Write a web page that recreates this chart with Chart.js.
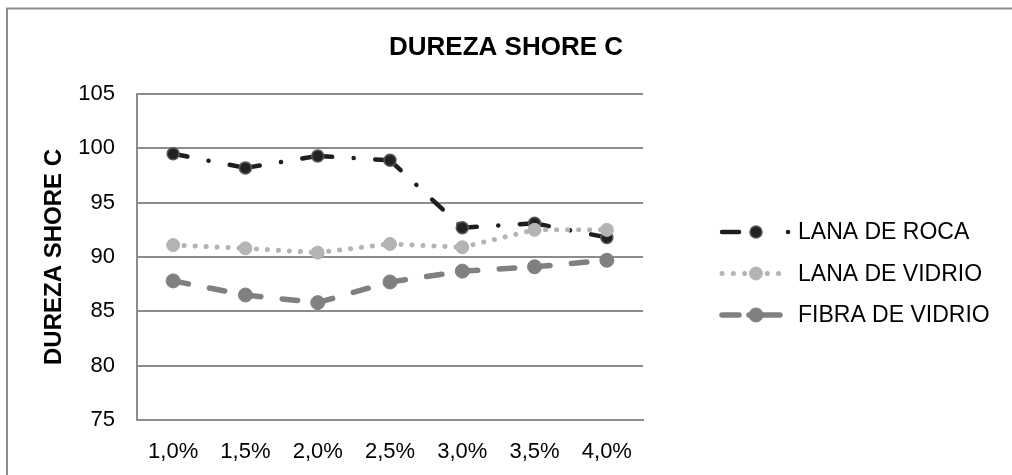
<!DOCTYPE html>
<html>
<head>
<meta charset="utf-8">
<script src="https://cdn.jsdelivr.net/npm/chart.js@4/dist/chart.umd.min.js"></script>
<style>
  html, body { margin: 0; padding: 0; background: #fff; }
  #wrap { position: relative; width: 1012px; height: 475px; }
</style>
</head>
<body>
<div id="wrap"><canvas id="chart" width="1012" height="475"></canvas></div>
<script>
// categorías (% de fibra) y valores de dureza
const categorias = ["1,0%", "1,5%", "2,0%", "2,5%", "3,0%", "3,5%", "4,0%"];
const lanaRoca = [99.5, 98.2, 99.3, 98.9, 92.7, 93.1, 91.8];
const lanaVidrio = [91.1, 90.8, 90.4, 91.2, 90.9, 92.5, 92.5];
const fibraVidrio = [87.8, 86.5, 85.8, 87.7, 88.7, 89.1, 89.7];
const nombres = ["LANA DE ROCA", "LANA DE VIDRIO", "FIBRA DE VIDRIO"];
const titulo = "DUREZA SHORE C";
const yMin = 75, yMax = 105, yPaso = 5;

const FUENTE = "'Liberation Sans', Arial, sans-serif";
const GRIS = "#8c8c8c";

// Excel reinicia el patrón de guiones en cada tramo: un offset distinto
// (múltiplo del periodo) obliga a Chart.js a trazar cada tramo por separado
function reinicio(periodo) {
    return { borderDashOffset: c => c.p0DataIndex * periodo };
}

// marco exterior y título centrado en todo el gráfico
const marco = {
    id: "marco",
    beforeDraw(chart) {
        const ctx = chart.ctx;
        ctx.save();
        ctx.strokeStyle = GRIS;
        ctx.lineWidth = 2;
        ctx.beginPath();
        ctx.moveTo(7, 480);
        ctx.lineTo(7, 8.5);
        ctx.lineTo(1020, 8.5);
        ctx.stroke();
        ctx.fillStyle = "#000";
        ctx.font = "bold 26px " + FUENTE;
        ctx.textAlign = "center";
        ctx.textBaseline = "middle";
        ctx.fillText(titulo, 506, 48);
        ctx.restore();
    }
};

// leyenda a la derecha, estilo Excel: línea con marcador en el centro
const leyenda = {
    id: "leyenda",
    afterDraw(chart) {
        const ctx = chart.ctx;
        const area = chart.chartArea;
        const x0 = area.right + 79, x1 = area.right + 146, xm = area.right + 113;
        const yBase = 232, salto = 41.5;
        chart.data.datasets.forEach((ds, i) => {
            const y = yBase + i * salto;
            ctx.save();
            ctx.strokeStyle = ds.borderColor;
            ctx.lineWidth = ds.borderWidth;
            ctx.lineCap = ds.borderCapStyle;
            ctx.setLineDash(ds.legendDash || ds.borderDash);
            ctx.beginPath();
            ctx.moveTo(x0, y);
            ctx.lineTo(x1, y);
            ctx.stroke();
            ctx.setLineDash([]);
            ctx.beginPath();
            ctx.arc(xm, y, ds.pointRadius, 0, Math.PI * 2);
            ctx.fillStyle = ds.pointBackgroundColor;
            ctx.fill();
            ctx.lineWidth = ds.pointBorderWidth;
            ctx.strokeStyle = ds.pointBorderColor;
            ctx.stroke();
            ctx.fillStyle = "#000";
            ctx.font = "23px " + FUENTE;
            ctx.textBaseline = "middle";
            ctx.fillText(ds.label, area.right + 155, y + 1);
            ctx.restore();
        });
    }
};

const ctx = document.getElementById("chart");
new Chart(ctx, {
    type: "line",
    data: {
        labels: categorias,
        datasets: [
            {
                label: nombres[0],
                data: lanaRoca,
                borderColor: "#1e1e1e",
                borderWidth: 4.5,
                borderDash: [14.5, 21.5, 0.1, 21.5],
                legendDash: [17, 49, 0.1, 60],
                borderCapStyle: "round",
                segment: reinicio(57.6),
                pointRadius: 6,
                pointBackgroundColor: "#222",
                pointBorderColor: "#5a5a5a",
                pointBorderWidth: 1.5,
                order: 2
            },
            {
                label: nombres[1],
                data: lanaVidrio,
                borderColor: "#b4b4b4",
                borderWidth: 5,
                borderDash: [0.1, 10.9],
                legendDash: [0.1, 11.2],
                borderCapStyle: "round",
                segment: reinicio(11),
                pointRadius: 6.5,
                pointBackgroundColor: "#b4b4b4",
                pointBorderColor: "#b4b4b4",
                pointBorderWidth: 1,
                order: 1
            },
            {
                label: nombres[2],
                data: fibraVidrio,
                borderColor: "#808080",
                borderWidth: 5.5,
                borderDash: [15.5, 21.5],
                legendDash: [17, 10, 31, 100],
                borderCapStyle: "round",
                segment: reinicio(37),
                pointRadius: 7,
                pointBackgroundColor: "#808080",
                pointBorderColor: "#808080",
                pointBorderWidth: 1,
                order: 0
            }
        ]
    },
    options: {
        responsive: false,
        animation: false,
        devicePixelRatio: 1,
        layout: { padding: { left: 40, right: 369, top: 94, bottom: 0 } },
        plugins: {
            legend: { display: false },
            tooltip: { enabled: false },
            title: { display: false }
        },
        elements: { line: { tension: 0 } },
        scales: {
            x: {
                offset: true,
                grid: { display: false, drawTicks: false },
                border: { display: true, color: GRIS, width: 2 },
                ticks: {
                    color: "#000",
                    padding: 19,
                    maxRotation: 0,
                    font: { family: FUENTE, size: 22 }
                },
                afterFit(scale) { scale.height = 55; }
            },
            y: {
                min: yMin,
                max: yMax,
                ticks: {
                    stepSize: yPaso,
                    color: "#000",
                    padding: 22,
                    font: { family: FUENTE, size: 22 }
                },
                grid: { color: GRIS, lineWidth: 2, drawTicks: false },
                border: { display: true, color: GRIS, width: 2 },
                title: {
                    display: true,
                    text: titulo,
                    color: "#000",
                    font: { family: FUENTE, size: 24, weight: "bold" },
                    padding: { top: 0, bottom: 0 }
                },
                afterFit(scale) { scale.width = 97; }
            }
        }
    },
    plugins: [marco, leyenda]
});
</script>
</body>
</html>
